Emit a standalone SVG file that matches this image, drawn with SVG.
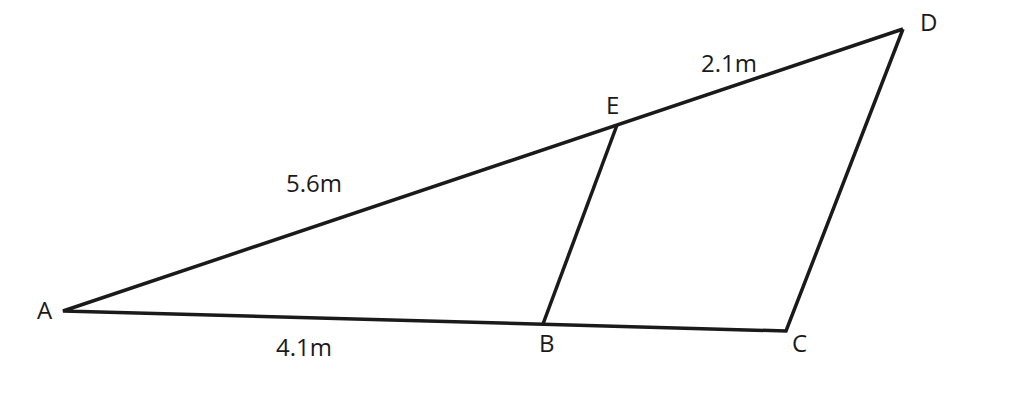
<svg xmlns="http://www.w3.org/2000/svg" width="1014" height="402" viewBox="0 0 1014 402">
<style>
.edge{stroke:#1a1a1a;stroke-width:3.5;fill:none;stroke-linejoin:miter;stroke-linecap:butt}
.lbl{font-family:"Open Sans","Noto Sans",sans-serif;font-size:24px;fill:#1a1a1a}
</style>
<rect width="1014" height="402" fill="#ffffff"/>
<g id="connectors">
<polyline class="edge" points="903,29 63,311 786,331 903,29"/>
<line class="edge" x1="617" y1="125" x2="543" y2="324"/>
</g>
<g id="A"><text class="lbl" x="37" y="319">A</text></g>
<g id="D"><text class="lbl" x="920" y="31">D</text></g>
<g id="E"><text class="lbl" x="606" y="114">E</text></g>
<g id="B"><text class="lbl" x="539" y="352">B</text></g>
<g id="C"><text class="lbl" x="792" y="352">C</text></g>
<g id="labels">
<text class="lbl" x="701" y="72">2.1m</text>
<text class="lbl" x="286" y="192">5.6m</text>
<text class="lbl" x="276" y="356">4.1m</text>
</g>
</svg>
